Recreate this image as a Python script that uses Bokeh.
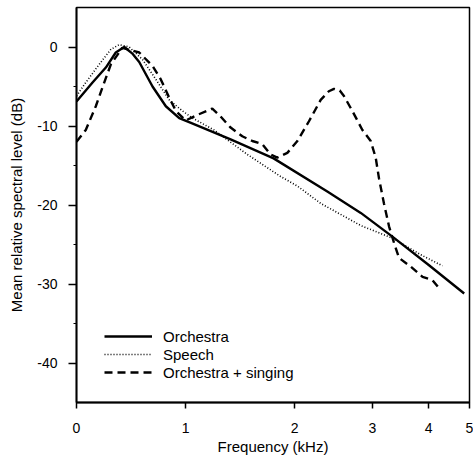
import numpy as np
from bokeh.plotting import figure
from bokeh.models import FixedTicker, Legend, LegendItem, Range1d
from bokeh.embed import file_html
from bokeh.resources import INLINE

# ---- data (frequency in kHz, level in dB) ----
orch_khz = [0, 0.147, 0.269, 0.36, 0.438, 0.51, 0.575, 0.697, 0.819, 0.942,
            1.049, 1.413, 1.807, 2.42, 2.85, 3.355, 4.0, 4.87]
orch_db = [-6.9, -4.5, -2.6, -0.7, 0.0, -0.8, -1.9, -5.0, -7.5, -9.0,
           -9.6, -11.7, -14.1, -18.3, -21.0, -24.0, -27.6, -31.2]

speech_khz = [0, 0.085, 0.208, 0.315, 0.392, 0.483, 0.606, 0.728, 0.85, 0.972,
              1.064, 1.26, 1.566, 1.872, 2.035, 2.335, 2.85, 3.355, 3.859, 4.337]
speech_db = [-6.2, -4.5, -2.2, -0.3, 0.3, 0.0, -1.6, -4.1, -6.7, -8.1,
             -9.0, -10.5, -13.6, -16.4, -17.6, -19.8, -22.6, -24.2, -26.3, -27.7]

sing_khz = [0, 0.085, 0.177, 0.254, 0.315, 0.42, 0.575, 0.697, 0.773, 0.85,
            0.911, 1.0, 1.107, 1.245, 1.321, 1.413, 1.52, 1.612, 1.704, 1.78,
            1.841, 1.933, 2.035, 2.184, 2.335, 2.44, 2.506, 2.58, 2.634, 2.742,
            2.871, 2.978, 3.058, 3.116, 3.205, 3.295, 3.384, 3.473, 3.68, 3.89,
            4.091, 4.294]
sing_db = [-12.0, -10.5, -7.5, -4.5, -2.2, -0.1, -0.7, -2.4, -4.1, -6.4,
           -8.1, -9.3, -8.6, -7.8, -8.8, -10.2, -11.3, -11.9, -12.3, -13.6,
           -14.0, -13.4, -11.9, -9.4, -6.7, -5.6, -5.3, -5.5, -6.2, -8.1,
           -10.5, -11.9, -14.0, -16.6, -19.8, -22.7, -24.8, -26.7, -27.8, -29.1,
           -29.5, -30.8]

x_tick_khz = [0, 1, 2, 3, 4, 5]
x_tick_labels = ["0", "1", "2", "3", "4", "5"]
y_ticks = [0, -10, -20, -30, -40]
y_tick_labels = ["0", "-10", "-20", "-30", "-40"]
y_minor = [-5, -15, -25, -35]

series_names = ["Orchestra", "Speech", "Orchestra + singing"]

# warped frequency axis (linear to 2 kHz, compressed above), defined by tick places
AXIS_POS = [0.0, 1.0, 2.0, 2.713, 3.229, 3.603]


def warp(f):
    return np.interp(np.asarray(f, dtype=float), x_tick_khz, AXIS_POS)


FONT = "Liberation Sans"

p = figure(width=473, height=463, output_backend="svg", toolbar_location=None,
           x_range=Range1d(0, AXIS_POS[-1]), y_range=Range1d(-45, 5),
           min_border_left=76, min_border_right=4, min_border_top=7,
           min_border_bottom=61)
p.grid.visible = False
p.outline_line_color = "black"
p.outline_line_width = 1.5
p.background_fill_color = "white"
p.border_fill_color = "white"

r1 = p.line(warp(orch_khz), orch_db, line_color="black", line_width=2.4,
            line_join="round")
r2 = p.line(warp(speech_khz), speech_db, line_color="black", line_width=1.6,
            line_dash="1 2")
r3 = p.line(warp(sing_khz), sing_db, line_color="black", line_width=2.4,
            line_dash="8 5")

# x axis
xpos = [float(v) for v in warp(x_tick_khz)]
p.xaxis.ticker = FixedTicker(ticks=xpos)
p.xaxis.major_label_overrides = {xv: lab for xv, lab in zip(xpos, x_tick_labels)}
p.xaxis.axis_label = "Frequency (kHz)"
p.xaxis.major_tick_out = 6
p.xaxis.major_tick_in = 0
p.xaxis.minor_tick_out = 0
p.xaxis.major_label_standoff = 14
p.xaxis.axis_label_standoff = 2

# y axis
p.yaxis.ticker = FixedTicker(ticks=y_ticks, minor_ticks=y_minor)
p.yaxis.major_label_overrides = {v: lab for v, lab in zip(y_ticks, y_tick_labels)}
p.yaxis.axis_label = "Mean relative spectral level (dB)"
p.yaxis.major_tick_out = 8
p.yaxis.major_tick_in = 0
p.yaxis.minor_tick_out = 3
p.yaxis.minor_tick_in = 0
p.yaxis.major_label_standoff = 11
p.yaxis.axis_label_standoff = 9

for ax in (p.xaxis[0], p.yaxis[0]):
    ax.axis_line_color = "black"
    ax.axis_line_width = 1.8
    ax.major_tick_line_color = "black"
    ax.major_tick_line_width = 1.5
    ax.minor_tick_line_color = "black"
    ax.minor_tick_line_width = 1.2
    ax.major_label_text_font = FONT
    ax.major_label_text_font_size = "14px"
    ax.major_label_text_color = "black"
    ax.axis_label_text_font = FONT
    ax.axis_label_text_font_size = "15px"
    ax.axis_label_text_font_style = "normal"
    ax.axis_label_text_color = "black"

legend = Legend(
    items=[LegendItem(label=series_names[0], renderers=[r1]),
           LegendItem(label=series_names[1], renderers=[r2]),
           LegendItem(label=series_names[2], renderers=[r3])],
    location=(28, 21), padding=0, spacing=0, margin=0,
    glyph_width=48, glyph_height=18, label_height=18, label_standoff=11,
    border_line_alpha=0, background_fill_alpha=0,
    label_text_font=FONT, label_text_font_size="15px", label_text_color="black")
p.add_layout(legend)

open("out.html", "w").write(file_html(p, INLINE))
